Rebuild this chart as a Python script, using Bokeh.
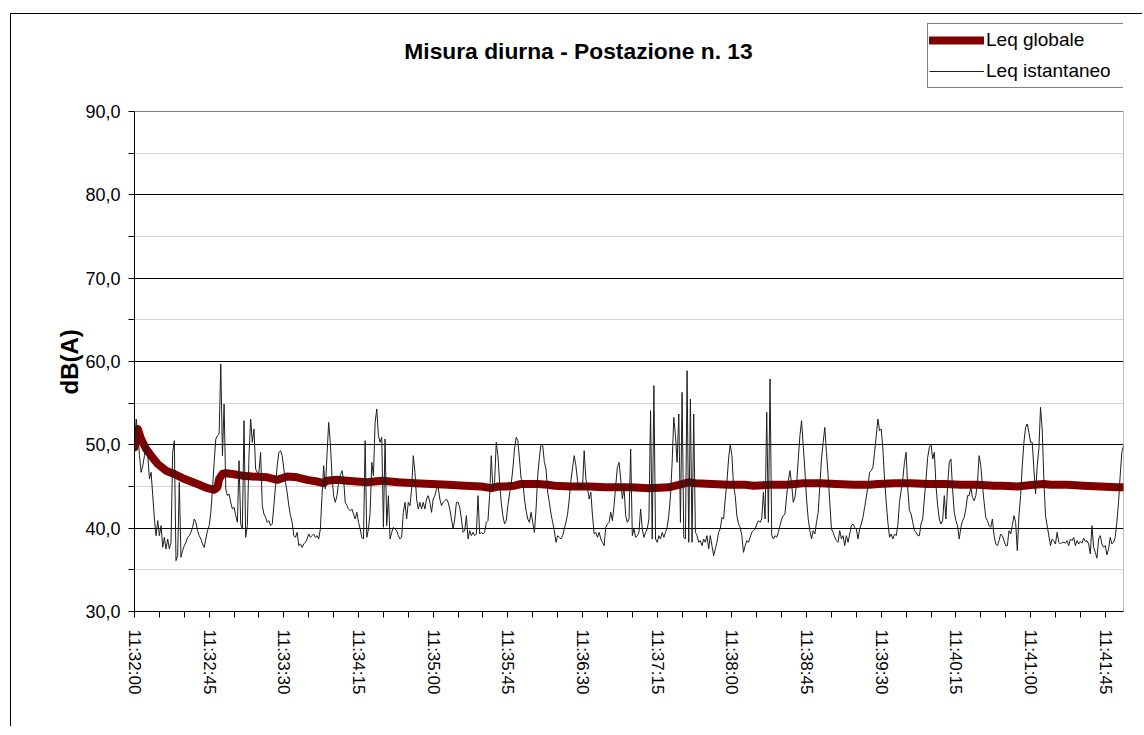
from bokeh.plotting import figure
from bokeh.models import Range1d, FixedTicker, Grid, Legend, LegendItem, Label, Title
from bokeh.embed import file_html
from bokeh.resources import INLINE

# ---------------- data ----------------
title_text = "Misura diurna - Postazione n. 13"
y_label = "dB(A)"
series_names = ["Leq globale", "Leq istantaneo"]

x_tick_labels = ["11:32:00", "11:32:45", "11:33:30", "11:34:15", "11:35:00",
                 "11:35:45", "11:36:30", "11:37:15", "11:38:00", "11:38:45",
                 "11:39:30", "11:40:15", "11:41:00", "11:41:45"]
y_tick_values = [30, 40, 50, 60, 70, 80, 90]
y_tick_labels = ["30,0", "40,0", "50,0", "60,0", "70,0", "80,0", "90,0"]

# Leq istantaneo, one value per second starting 11:32:00
leq_inst = [
    49.9, 53.1, 51.5, 48.7, 46.7, 47.5, 48.7, 50.1, 48.7, 45.9,
    46.7, 43.9, 41.1, 39.1, 40.9, 39.1, 40.3, 37.7, 38.9, 37.5,
    38.7, 37.5, 38.3, 49.1, 50.5, 36.1, 36.7, 45.5, 36.5, 37.3,
    37.9, 38.3, 38.9, 39.1, 39.5, 40.1, 41.1, 40.7, 39.7, 39.1,
    38.7, 38.1, 37.7, 38.7, 39.7, 40.3, 41.9, 44.7, 47.9, 50.7,
    51.1, 51.3, 59.7, 48.7, 54.9, 44.7, 43.9, 44.1, 43.1, 42.3,
    42.5, 41.5, 40.7, 48.1, 40.5, 39.9, 52.9, 38.9, 40.3, 48.7,
    53.1, 50.3, 51.9, 47.1, 46.7,
    46.7, 49.1, 42.7, 41.7, 41.3, 40.7, 40.9, 40.3, 40.5, 42.7,
    45.1, 47.5, 49.1, 49.3, 48.7, 47.1, 45.5, 44.3, 42.7, 41.5,
    40.7, 39.1, 38.9, 39.5, 37.9, 38.1, 37.7, 38.1, 38.3, 38.7,
    39.3, 38.9, 39.1, 39.3, 38.9, 39.1, 38.7, 39.9, 43.9, 47.5,
    44.7, 48.7, 52.7, 50.3, 46.3, 43.9, 43.1, 43.9, 45.5, 46.3,
    46.9, 45.9, 43.1, 42.7, 42.3, 42.1, 42.3, 41.7, 41.1, 41.9,
    40.7, 39.9, 38.9, 38.7, 50.5, 38.9, 39.9, 41.9, 47.9, 46.3,
    52.7, 54.3, 51.1, 50.3,
    50.9, 40.1, 50.7, 40.3, 43.9, 38.7, 39.5, 40.1, 39.9, 39.7,
    39.1, 38.7, 38.9, 41.9, 43.1, 41.1, 43.1, 42.7, 44.7, 48.7,
    46.7, 43.5, 42.3, 43.1, 42.3, 43.1, 42.3, 43.5, 43.9, 43.1,
    41.9, 43.5, 43.9, 44.7, 44.9, 43.5, 42.7, 43.1, 43.3, 43.5,
    43.1, 42.3, 41.1, 39.9, 41.1, 43.1, 43.1, 42.5, 41.1, 39.5,
    39.7, 41.5, 38.7, 39.7, 39.1, 39.5, 39.1, 39.3, 43.9, 39.3,
    39.5, 39.3, 39.5, 40.7, 40.9, 43.9, 48.7, 44.7, 45.5, 50.3,
    48.7, 45.5, 43.1, 41.5, 40.5,
    40.9, 42.7, 44.1, 45.3, 47.1, 49.5, 50.9, 50.5, 48.3, 45.9,
    45.7, 43.5, 42.1, 41.1, 40.7, 41.9, 40.7, 39.5, 42.3, 46.3,
    48.5, 50.1, 49.9, 47.9, 47.1, 44.3, 43.1, 41.7, 40.7, 39.7,
    38.3, 39.1, 38.9, 38.7, 39.1, 39.9, 40.7, 41.7, 43.5, 45.7,
    47.3, 48.7, 47.5, 45.7, 44.7, 45.3, 44.9, 49.3, 45.9, 44.7,
    43.5, 44.3, 41.5, 39.3, 39.5, 38.9, 39.5, 38.7, 38.3, 37.9,
    40.1, 40.5, 40.7, 41.9, 40.9, 42.7, 45.1, 47.3, 47.9, 45.9,
    43.5, 44.9, 41.5, 40.7, 41.1,
    49.5, 39.1, 39.9, 38.9, 39.1, 39.5, 42.3, 39.9, 38.9, 39.5,
    39.9, 41.1, 54.1, 38.7, 57.1, 38.7, 38.3, 39.1, 38.7, 39.5,
    38.9, 39.5, 40.1, 41.5, 43.9, 47.9, 53.3, 51.1, 47.9, 53.7,
    40.7, 56.3, 38.9, 38.7, 58.9, 38.3, 55.5, 38.3, 53.7, 39.5,
    39.1, 38.3, 38.5, 37.9, 38.7, 38.3, 39.1, 37.5, 39.1, 37.9,
    36.7, 37.5, 38.3, 39.5, 39.9, 41.3, 41.1, 43.5, 45.5, 48.3,
    50.1, 48.7, 45.1, 43.9, 41.5, 40.5, 40.1, 39.1, 37.1, 37.9,
    38.5, 38.3, 38.9, 39.5, 39.7,
    39.9, 40.5, 40.9, 40.7, 41.1, 44.3, 41.1, 53.9, 40.7, 57.9,
    39.1, 38.7, 39.1, 38.9, 39.5, 40.3, 41.1, 41.5, 41.7, 43.9,
    45.7, 46.9, 45.3, 43.1, 43.7, 45.3, 48.3, 51.1, 52.9, 49.9,
    46.9, 43.5, 41.1, 39.7, 38.7, 39.7, 39.3, 40.7, 41.9, 45.1,
    48.3, 50.3, 52.1, 49.1, 46.3, 43.1, 39.9, 39.5, 38.9, 38.5,
    38.3, 39.7, 38.7, 39.1, 37.9, 39.1, 38.3, 39.3, 40.3, 40.5,
    40.1, 39.9, 38.7, 39.9, 40.5, 41.3, 42.5, 43.7, 45.1, 46.7,
    46.9, 47.3, 49.1, 51.1, 53.1,
    51.7, 51.9, 49.5, 45.9, 43.1, 40.7, 38.9, 39.3, 38.7, 39.3,
    39.1, 40.3, 43.1, 44.5, 45.9, 47.9, 49.1, 44.7, 42.1, 41.7,
    40.7, 39.7, 39.5, 39.1, 39.1, 40.5, 41.1, 43.5, 45.9, 48.5,
    49.7, 50.1, 48.3, 49.1, 45.1, 42.7, 41.1, 40.5, 40.9, 43.9,
    41.1, 45.1, 47.9, 48.3, 44.7, 41.9, 40.9, 40.3, 38.7, 40.1,
    40.9, 41.3, 42.3, 43.9, 43.9, 44.9, 43.7, 43.3, 43.9, 45.5,
    48.7, 47.5, 45.1, 43.1, 41.3, 40.9, 40.3, 40.1, 41.1, 39.1,
    38.1, 37.9, 38.5, 39.3,
    39.1, 38.5, 37.9, 37.9, 39.7, 39.3, 40.3, 41.5, 40.7, 37.3,
    41.5, 43.9, 47.5, 50.3, 52.1, 52.5, 51.5, 50.3, 50.3, 47.1,
    44.1, 47.5, 49.5, 54.5, 51.9, 45.9, 41.5, 40.3, 39.1, 37.9,
    38.7, 38.5, 38.1, 39.5, 38.3, 38.1, 38.3, 38.3, 38.2, 38.5,
    37.9, 38.7, 38.5, 38.9, 37.9, 38.5, 38.1, 38.4, 38.2, 38.8,
    38.4, 38.5, 38.1, 36.9, 40.3, 37.7, 37.1, 36.4, 38.7, 39.1,
    38.1, 37.7, 37.9, 36.8, 37.5, 38.9, 38.1, 38.3, 38.9, 40.7,
    43.1, 46.3, 49.1, 49.9,
]
seconds = list(range(len(leq_inst)))

# Leq globale (running Leq), read at these seconds
glob_t = [0, 2, 4, 7, 10, 14, 19, 24, 29, 34, 39, 44, 48, 50, 51, 53, 55, 59,
          65, 71, 80, 86, 92, 98, 104, 110, 114, 116, 122, 128, 134, 140, 149,
          159, 169, 179, 189, 199, 209, 215, 219, 224, 229, 233, 243, 249, 253,
          263, 274, 284, 294, 299, 310, 322, 328, 334, 338, 348, 358, 368, 373,
          383, 393, 403, 413, 423, 433, 443, 448, 458, 468, 478, 488, 498, 508,
          518, 523, 532, 542, 548, 552, 562, 572, 582, 592, 596]
glob_db = [49.7, 51.9, 50.7, 49.5, 48.7, 47.7, 46.9, 46.5, 46.0, 45.6, 45.2, 44.8,
           44.6, 44.9, 45.9, 46.5, 46.6, 46.5, 46.3, 46.2, 46.1, 45.8, 46.2, 46.1,
           45.8, 45.6, 45.4, 45.7, 45.8, 45.7, 45.6, 45.5, 45.7, 45.5, 45.4, 45.3,
           45.2, 45.1, 45.0, 44.8, 45.0, 45.0, 45.1, 45.3, 45.3, 45.2, 45.1, 45.0,
           45.0, 44.9, 44.9, 44.9, 44.8, 44.9, 45.2, 45.5, 45.4, 45.3, 45.2, 45.2,
           45.1, 45.2, 45.2, 45.4, 45.4, 45.3, 45.2, 45.2, 45.3, 45.4, 45.4, 45.3,
           45.3, 45.2, 45.2, 45.1, 45.1, 45.0, 45.2, 45.3, 45.2, 45.2, 45.1, 45.0,
           44.9, 44.9]

FONT = "Liberation Sans"

# layout (canvas pixels); the frame reaches up to the canvas top so that the
# title and the legend are drawn inside it (not clipped)
W, H = 1132, 713
LEFT, RIGHT, BOTTOM = 123, 20, 116
PLOT_PX = 500                      # pixels between 30 dB and 90 dB
frame_h = H - BOTTOM
y_top = 90 + (frame_h - PLOT_PX) * 60.0 / PLOT_PX
x_end = len(leq_inst) - 1

p = figure(width=W, height=H, output_backend="svg", toolbar_location=None,
           x_range=Range1d(0, x_end), y_range=Range1d(30, y_top),
           min_border_left=LEFT, min_border_right=RIGHT, min_border_top=0,
           min_border_bottom=BOTTOM,
           background_fill_color="white", border_fill_color="white",
           outline_line_color=None,
           styles={"position": "relative", "left": "10px", "top": "13px",
                   "border-left": "1px solid #000", "border-top": "1px solid #000"})
p.title.visible = False

# grids
p.xgrid.visible = False
p.ygrid.ticker = FixedTicker(ticks=y_tick_values[1:-1])
p.ygrid.grid_line_color = "#000000"
p.ygrid.grid_line_width = 1
p.add_layout(Grid(dimension=1, ticker=FixedTicker(ticks=[v + 5 for v in y_tick_values[:-1]]),
                  grid_line_color="#d4d4d4", grid_line_width=1))
# plot-area border (top and right)
p.add_layout(Grid(dimension=1, ticker=FixedTicker(ticks=[y_tick_values[-1]]),
                  grid_line_color="#808080", grid_line_width=1))
p.segment(x0=[x_end], y0=[y_tick_values[0]], x1=[x_end], y1=[y_tick_values[-1]],
          line_color="#808080", line_width=1)

r_glob = p.line(glob_t, glob_db, line_color="#800000", line_width=8,
                line_cap="round", line_join="round")
r_inst = p.line(seconds, leq_inst, line_color="#1e1e1e", line_width=1)

# x axis
xt = list(range(0, len(leq_inst), 15))
p.xaxis.ticker = FixedTicker(ticks=xt)
p.xaxis.major_label_overrides = {t: (x_tick_labels[t // 45] if t % 45 == 0 else "") for t in xt}
p.xaxis.major_label_orientation = "vertical"
p.xaxis.major_label_text_font = FONT
p.xaxis.major_label_text_font_size = "17px"
p.xaxis.major_label_text_color = "black"
p.xaxis.major_label_standoff = 12
p.xaxis.axis_line_color = "black"
p.xaxis.major_tick_line_color = "black"
p.xaxis.major_tick_out = 6
p.xaxis.major_tick_in = 0
p.xaxis.minor_tick_line_color = None

# y axis
yt = list(range(30, 91, 5))
p.yaxis.ticker = FixedTicker(ticks=yt)
p.yaxis.bounds = (y_tick_values[0], y_tick_values[-1])
p.yaxis.major_label_overrides = {v: (y_tick_labels[y_tick_values.index(v)] if v in y_tick_values else "") for v in yt}
p.yaxis.major_label_text_font = FONT
p.yaxis.major_label_text_font_size = "18px"
p.yaxis.major_label_text_color = "black"
p.yaxis.major_label_standoff = 8
p.yaxis.axis_line_color = "black"
p.yaxis.major_tick_line_color = "black"
p.yaxis.major_tick_out = 6
p.yaxis.major_tick_in = 0
p.yaxis.minor_tick_line_color = None

# y axis title, centred on the 30..90 part of the frame
label_len = 66
p.add_layout(Title(text=y_label, align="left",
                   offset=PLOT_PX / 2 - label_len / 2, standoff=0,
                   text_font=FONT, text_font_style="bold", text_font_size="24px",
                   text_color="black"), "left")

# chart title (inside the tall frame)
p.add_layout(Label(x=444, y=frame_h - 36, x_units="screen", y_units="screen", text=title_text,
                   text_align="center", text_baseline="middle", text_font=FONT,
                   text_font_style="bold", text_font_size="22.8px", text_color="black"))

# legend
legend = Legend(items=[LegendItem(label=series_names[0], renderers=[r_glob]),
                       LegendItem(label=series_names[1], renderers=[r_inst])],
                location=(793, frame_h - 74), orientation="vertical", padding=1, spacing=1,
                margin=0, glyph_width=55, glyph_height=30, label_height=30,
                label_width=137, label_standoff=2, label_text_font=FONT,
                label_text_font_size="19px", label_text_color="black",
                border_line_color="black", border_line_width=1,
                background_fill_color="white", background_fill_alpha=1)
p.add_layout(legend)

open("out.html", "w").write(file_html(p, INLINE))
